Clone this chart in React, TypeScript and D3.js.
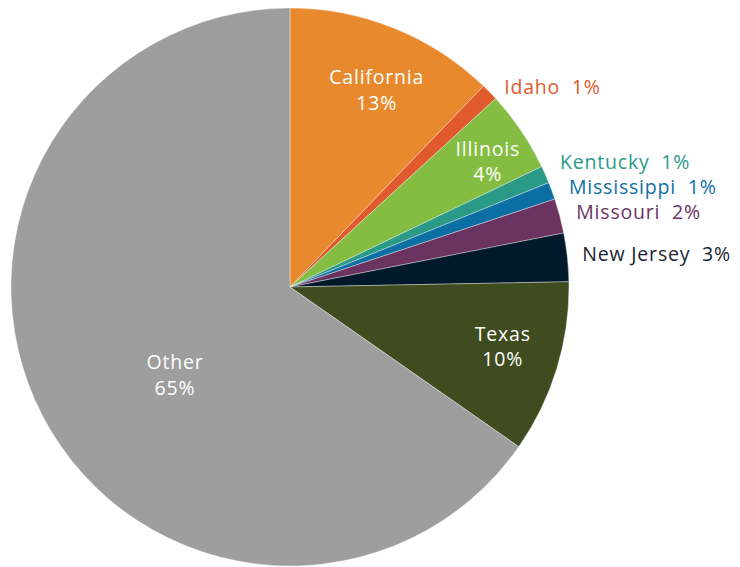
import React from 'react';
import * as d3 from 'd3';

const states = ['California', 'Idaho', 'Illinois', 'Kentucky', 'Mississippi', 'Missouri', 'New Jersey', 'Texas', 'Other'];
const shares = [12.2, 1.0, 4.7, 1.0, 1.0, 2.0, 2.8, 10.0, 65.3];
const shareLabels = ['13%', '1%', '4%', '1%', '1%', '2%', '3%', '10%', '65%'];
const colors = ['#e8892e', '#e05a2e', '#84bd41', '#2a9a87', '#0c6fa3', '#6b3360', '#001a2c', '#3e4c20', '#9d9e9d'];
const outside = ['Idaho', 'Kentucky', 'Mississippi', 'Missouri', 'New Jersey'];

const W = 740;
const H = 567;
const cx = 290;
const cy = 287;
const R = 279;

// label placement tweaks: [radius, angle in degrees] for inside labels, nudges for outside ones
const inPlace: Record<string, [number, number]> = {
  California: [215, 23.8], Illinois: [234, 57.7], Texas: [221, 105.7], Other: [145, 232.5],
};
const outNudge: Record<string, [number, number]> = {
  Idaho: [3, 6], Kentucky: [0, -6], Mississippi: [2, 2], Missouri: [1, 0], 'New Jersey': [-1, -1],
};

const App: React.FC = () => {
  const pie = d3.pie<number>().value(d => d).sort(null);
  const arcs = pie(shares);
  const arc = d3.arc<d3.PieArcDatum<number>>().innerRadius(0).outerRadius(R);
  const outLabel = d3.arc<d3.PieArcDatum<number>>().innerRadius(295).outerRadius(295);

  const font = "'Open Sans', sans-serif";
  const fs = 19.5;
  const ls = 0.8;

  return (
    <svg width={W} height={H} style={{ position: 'absolute', left: 0, top: 0 }}>
      <rect width={W} height={H} fill="#fff" />
      <g transform={`translate(${cx},${cy})`}>
        {arcs.map((a, i) => (
          <path key={states[i]} d={arc(a) || ''} fill={colors[i]} stroke="#ffffff" strokeOpacity={0.6} strokeWidth={0.6} />
        ))}
        {arcs.map((a, i) => {
          const name = states[i];
          if (outside.includes(name)) {
            const [x0, y0] = outLabel.centroid(a);
            const [nx, ny] = outNudge[name];
            return (
              <text key={name} x={x0 + nx} y={y0 + ny} dy="0.35em" fill={name === 'New Jersey' ? '#1a2433' : colors[i]}
                fontFamily={font} fontSize={fs} letterSpacing={ls} textAnchor="start" style={{ whiteSpace: 'pre' }}>
                {`${name}  ${shareLabels[i]}`}
              </text>
            );
          }
          const [r, deg] = inPlace[name];
          const mid = (deg * Math.PI) / 180;
          const x = r * Math.sin(mid);
          const y = -r * Math.cos(mid);
          return (
            <text key={name} x={x} y={y} fill="#fff" fontFamily={font} fontSize={fs} letterSpacing={ls} textAnchor="middle">
              <tspan x={x} dy="-0.3em">{name}</tspan>
              <tspan x={x} dy="1.3em">{shareLabels[i]}</tspan>
            </text>
          );
        })}
      </g>
    </svg>
  );
};

export default App;
